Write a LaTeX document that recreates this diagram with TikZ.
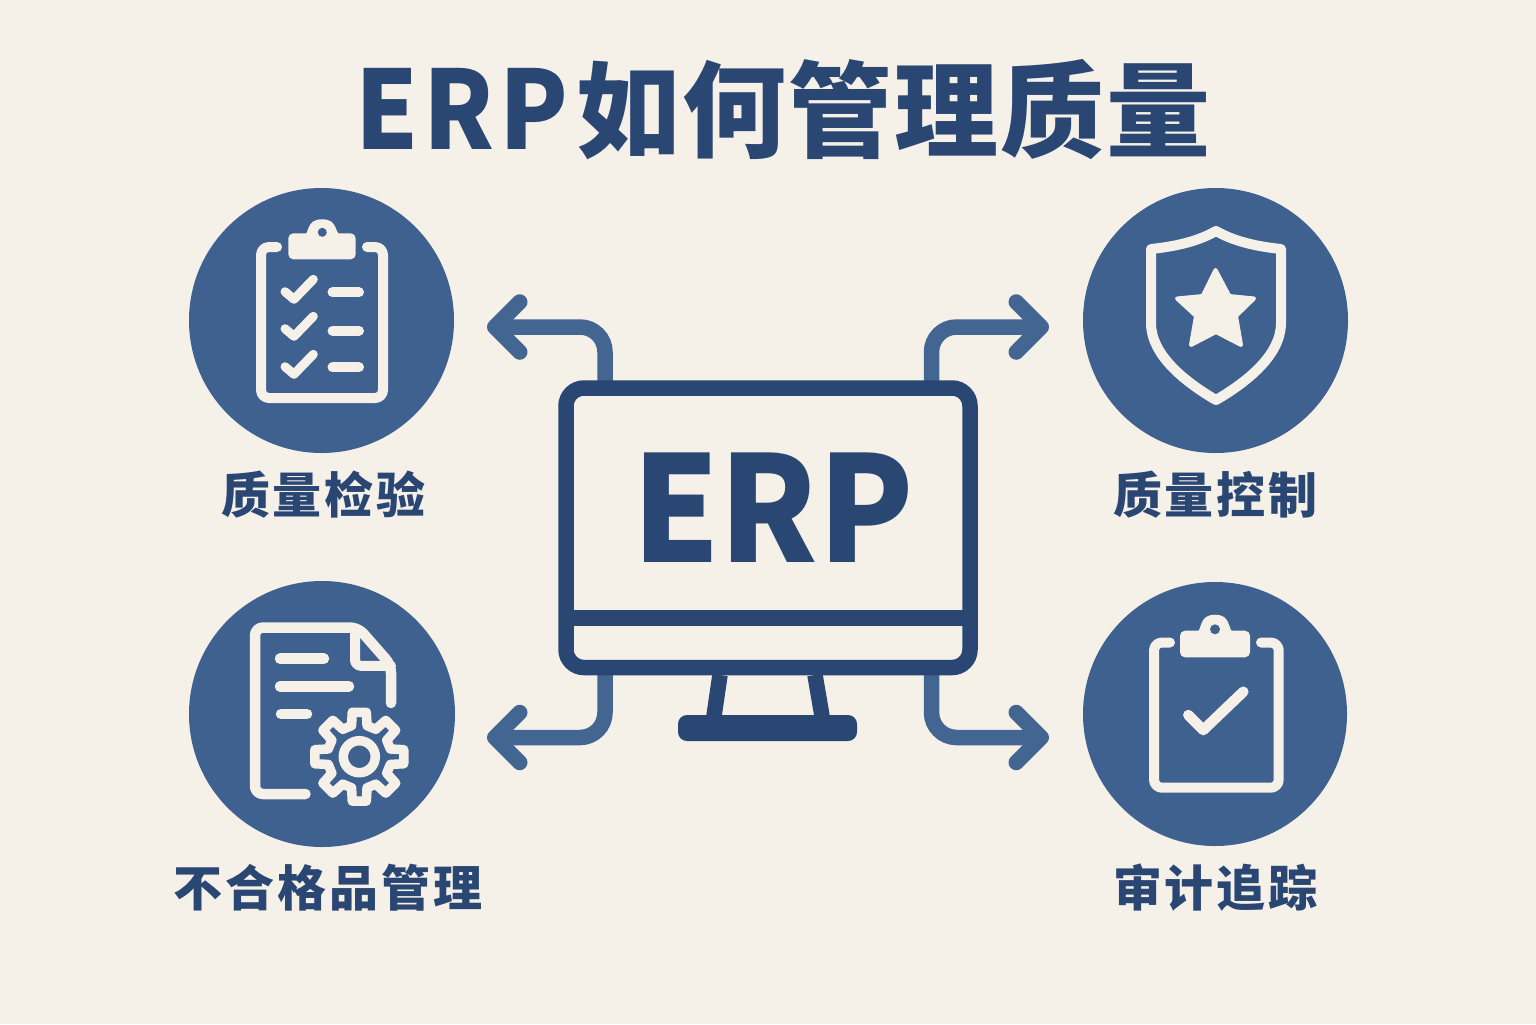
\documentclass[tikz,border=0pt]{standalone}
\usepackage{graphicx}
\usepackage{fontspec}
\setmainfont{Noto Sans CJK SC}
\usetikzlibrary{arrows.meta}
\definecolor{bgcream}{HTML}{F5F0E8}
\definecolor{discblue}{HTML}{3F618F}
\definecolor{inkblue}{HTML}{2A4673}
\definecolor{flowblue}{HTML}{436592}
\tikzset{
  disc/.style={circle,fill=discblue,minimum size=#1,inner sep=0pt},
  flow/.style={draw=flowblue,line width=7.75pt,rounded corners=12.5pt,
    -{Straight Barb[length=12.5pt,width=25pt,round,line width=7.75pt]}},
  iconline/.style={draw=bgcream,line width=5pt,line cap=round,line join=round,rounded corners=4pt},
  thinline/.style={draw=bgcream,line width=5pt,line cap=round,line join=round},
  iconfill/.style={fill=bgcream},
  label/.style={text=inkblue,font=\bfseries\fontsize{24.5}{30}\selectfont\addfontfeature{LetterSpace=6},inner sep=0pt},
  ink/.style={draw=inkblue,line width=7.75pt},
}
\begin{document}
\begin{tikzpicture}[x=0.5pt,y=-0.5pt]
\useasboundingbox[fill=bgcream] (0,0) rectangle (1536,1024);

% title
\node[text=inkblue,inner sep=0pt,anchor=base west,font=\bfseries] (title) at (355,149.5) {\scalebox{0.92}[1]{\fontsize{54.5}{60}\selectfont\addfontfeature{LetterSpace=5}ERP}\hspace{4pt}\fontsize{52}{60}\selectfont\addfontfeature{LetterSpace=2}如何管理质量};

% discs
\node[disc=132.5pt] (inspect) at (321.5,320.5) {};
\node[disc=133pt] (reject) at (322,714) {};
\node[disc=132.5pt] (control) at (1215.5,320.5) {};
\node[disc=132pt] (audit) at (1215,714) {};

% connector ends
\coordinate (startTL) at (605,385);
\coordinate (startTR) at (931.5,385);
\coordinate (startBL) at (605,670);
\coordinate (startBR) at (931.5,670);
\coordinate (tipTL) at (487,327);
\coordinate (tipTR) at (1049,327);
\coordinate (tipBL) at (487,737.5);
\coordinate (tipBR) at (1049,737.5);
\draw[flow] (startTL) |- (tipTL);
\draw[flow] (startTR) |- (tipTR);
\draw[flow] (startBL) |- (tipBL);
\draw[flow] (startBR) |- (tipBR);

% monitor
\draw[ink,line join=round] (720,675) -- (714,716);
\draw[ink,line join=round] (815,675) -- (822,716);
\node[fill=inkblue,rounded corners=4.5pt,minimum width=89.5pt,minimum height=13pt,inner sep=0pt] (standbase) at (767.5,728) {};
\node[ink,fill=bgcream,rounded corners=9pt,minimum width=202pt,minimum height=139.75pt,inner sep=0pt] (monitor) at (768,527.75) {};
\draw[ink,line width=8pt] (566,618) -- (970,618);
\node[text=inkblue,inner sep=0pt,anchor=base,font=\bfseries\fontsize{73.6}{80}\selectfont] (erp) at (773,562) {\scalebox{0.945}[1]{ERP}};

% clipboard with list
\draw[iconline] (277,247) -- (261,247) -- (261,398) -- (383,398) -- (383,247) -- (367,247);
\fill[iconfill,rounded corners=2.5pt] (288.3,233.3) rectangle (355.7,259.3);
\fill[iconfill] (304,236) .. controls (310,232) and (306,219.3) .. (322.3,219.3) .. controls (338,219.3) and (334,232) .. (341,236) -- cycle;
\fill[discblue] (322.3,232.3) circle[radius=4.5];
\foreach \dy in {0,37,75}{
  \draw[thinline,line width=4.5pt] (285,291.7+\dy) -- (294,299.3+\dy) -- (313.3,279.3+\dy);
}
\foreach \yy in {292.3,330.7,367.3}{
  \draw[thinline] (332.5,\yy) -- (359,\yy);
}

% document with gear
\draw[iconline,line width=5.25pt] (305.5,794) -- (255,794) -- (255,627.5) -- (358,627.5) -- (391,665) -- (391,703);
\draw[thinline,rounded corners=3pt] (355,630) -- (355,665.8) -- (391,665.8);
\draw[thinline,line width=5.25pt] (280,658.7) -- (324,658.7);
\draw[thinline,line width=5.25pt] (280,686.3) -- (349,686.3);
\draw[thinline,line width=5.25pt] (281,714) -- (307,714);
\begin{scope}[shift={(359.3,756.7)}]
  \draw[thinline,line width=4.75pt] (-14:32)
    \foreach \a in {0,45,...,315}{
      -- (\a-14:32) -- (\a-9:45) -- (\a+9:45) -- (\a+14:32)
    } -- cycle;
  \draw[bgcream,line width=4.75pt] (0,0) circle[radius=16];
\end{scope}

% shield with star
\draw[thinline] (1216,231)
  .. controls (1195,243) and (1170,247) .. (1151,249)
  -- (1151,323) .. controls (1151,355) and (1185,382) .. (1216,400)
  .. controls (1247,382) and (1281,355) .. (1281,323)
  -- (1281,249) .. controls (1262,247) and (1237,243) .. (1216,231) -- cycle;
\filldraw[fill=bgcream,draw=bgcream,line width=2pt,line join=round]
  (1215.5,270) -- (1229.3,296) -- (1254,298.5) -- (1236,316) -- (1241,345) -- (1216,332)
  -- (1191,345) -- (1196,316) -- (1177,298.5) -- (1202.7,296) -- cycle;

% clipboard with tick
\draw[iconline] (1170,642.5) -- (1154,642.5) -- (1154,787.7) -- (1278.7,787.7) -- (1278.7,642.5) -- (1261,642.5);
\fill[iconfill,rounded corners=2.5pt] (1180,630.7) rectangle (1250,657.3);
\fill[iconfill] (1196,633) .. controls (1203,630) and (1198,614.7) .. (1215,614.7) .. controls (1232,614.7) and (1227,630) .. (1234,633) -- cycle;
\fill[discblue] (1215,629.3) circle[radius=5];
\draw[thinline,line width=5.25pt] (1188.3,715) -- (1203.3,730) -- (1243.3,691.7);

% labels
\node[label] (labelA) at (323.5,495) {质量检验};
\node[label] (labelB) at (1215.5,495) {质量控制};
\node[label] (labelC) at (328,888) {不合格品管理};
\node[label] (labelD) at (1215.5,888) {审计追踪};
\end{tikzpicture}
\end{document}
